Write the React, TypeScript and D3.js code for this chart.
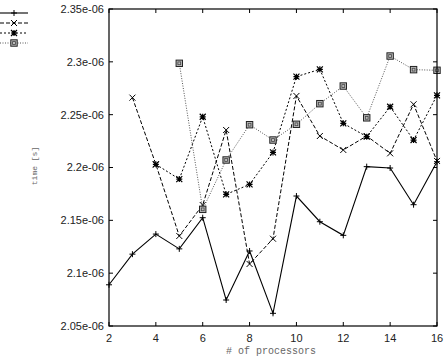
import React from "react";
import * as d3 from "d3";

const series1X = [2, 3, 4, 5, 6, 7, 8, 9, 10, 11, 12, 13, 14, 15, 16];
const series1 = [2.089, 2.118, 2.137, 2.123, 2.1525, 2.0746, 2.121, 2.062, 2.173, 2.1487, 2.1358, 2.2008, 2.1995, 2.1648, 2.2055];
const series2X = [3, 4, 5, 6, 7, 8, 9, 10, 11, 12, 13, 14, 15, 16];
const series2 = [2.2661, 2.203, 2.1352, 2.1645, 2.2355, 2.1087, 2.1326, 2.2677, 2.2298, 2.2166, 2.2298, 2.2134, 2.2598, 2.2062];
const series3X = [4, 5, 6, 7, 8, 9, 10, 11, 12, 13, 14, 15, 16];
const series3 = [2.203, 2.189, 2.248, 2.1746, 2.184, 2.2143, 2.286, 2.2929, 2.2418, 2.2292, 2.2575, 2.226, 2.2683];
const series4X = [5, 6, 7, 8, 9, 10, 11, 12, 13, 14, 15, 16];
const series4 = [2.2986, 2.1604, 2.2071, 2.2405, 2.226, 2.2409, 2.2604, 2.2771, 2.247, 2.3055, 2.2926, 2.292];
const xTicks = [2, 4, 6, 8, 10, 12, 14, 16];
const yTicks = [2.05, 2.1, 2.15, 2.2, 2.25, 2.3, 2.35];
const yTickLabels = ["2.05e-06", "2.1e-06", "2.15e-06", "2.2e-06", "2.25e-06", "2.3e-06", "2.35e-06"];

const L = 109, R = 437, T = 9, B = 326;

type Kind = "plus" | "cross" | "star" | "square";

function Marker({ x, y, kind, color }: { x: number; y: number; kind: Kind; color: string }) {
  const s = 3;
  if (kind === "plus")
    return <path d={`M${x - s},${y}H${x + s}M${x},${y - s}V${y + s}`} stroke={color} strokeWidth={1} />;
  if (kind === "cross")
    return <path d={`M${x - s},${y - s}L${x + s},${y + s}M${x - s},${y + s}L${x + s},${y - s}`} stroke={color} strokeWidth={1} />;
  if (kind === "star")
    return (
      <path
        d={`M${x - s},${y}H${x + s}M${x},${y - s}V${y + s}M${x - s},${y - s}L${x + s},${y + s}M${x - s},${y + s}L${x + s},${y - s}`}
        stroke={color}
        strokeWidth={1.2}
      />
    );
  return (
    <g>
      <rect x={x - 3.2} y={y - 3.2} width={6.4} height={6.4} fill="#bbb" stroke="#222" strokeWidth={1} />
      <rect x={x - 1.4} y={y - 1.4} width={2.8} height={2.8} fill="none" stroke="#444" strokeWidth={0.8} />
    </g>
  );
}

export default function App() {
  const x = d3.scaleLinear().domain([2, 16]).range([L, R]);
  const y = d3.scaleLinear().domain([2.05, 2.35]).range([B, T]);
  const line = d3
    .line<[number, number]>()
    .x((d) => x(d[0]))
    .y((d) => y(d[1]));

  const defs = [
    { xv: series1X, yv: series1, dash: "", color: "#000", width: 1.1, kind: "plus" as Kind },
    { xv: series2X, yv: series2, dash: "4,2", color: "#000", width: 1, kind: "cross" as Kind },
    { xv: series3X, yv: series3, dash: "2,2", color: "#000", width: 1, kind: "star" as Kind },
    { xv: series4X, yv: series4, dash: "1,1.5", color: "#555", width: 1, kind: "square" as Kind },
  ];

  const tickFont = { fontFamily: "Liberation Sans, Arial, sans-serif", fontSize: 11 };

  return (
    <svg width={446} height={360} style={{ position: "absolute", left: 0, top: 0, background: "#fff" }}>
      {defs.map((s, i) => {
        const ly = 13 + i * 10;
        return (
          <g key={"lg" + i}>
            <line x1={0} x2={28} y1={ly} y2={ly} stroke={s.color} strokeWidth={s.width} strokeDasharray={s.dash || undefined} />
            <Marker x={14} y={ly} kind={s.kind} color={s.color} />
          </g>
        );
      })}

      {yTicks.map((t, i) => (
        <g key={"yt" + i}>
          <line x1={L} x2={L + 4} y1={y(t)} y2={y(t)} stroke="#000" />
          <line x1={R} x2={R - 4} y1={y(t)} y2={y(t)} stroke="#000" />
          <text x={L - 5} y={y(t)} dy="0.35em" textAnchor="end" style={tickFont} fill="#222">
            {yTickLabels[i]}
          </text>
        </g>
      ))}
      {xTicks.map((t, i) => (
        <g key={"xt" + i}>
          <line x1={x(t)} x2={x(t)} y1={B} y2={B - 4} stroke="#000" />
          <line x1={x(t)} x2={x(t)} y1={T} y2={T + 4} stroke="#000" />
          <text x={x(t)} y={B + 16} textAnchor="middle" style={tickFont} fill="#222">
            {t}
          </text>
        </g>
      ))}

      {defs.map((s, i) => {
        const pts: [number, number][] = s.xv.map((xv, j) => [xv, s.yv[j]]);
        return (
          <g key={"s" + i}>
            <path d={line(pts) || ""} fill="none" stroke={s.color} strokeWidth={s.width} strokeDasharray={s.dash || undefined} />
            {pts.map((p, j) => (
              <Marker key={j} x={x(p[0])} y={y(p[1])} kind={s.kind} color={s.color} />
            ))}
          </g>
        );
      })}

      <rect x={L} y={T} width={R - L} height={B - T} fill="none" stroke="#000" strokeWidth={1.2} />

      <text
        x={271}
        y={354}
        textAnchor="middle"
        style={{ fontFamily: "Liberation Mono, monospace", fontSize: 10 }}
        fill="#666"
      >
        # of processors
      </text>
      <text
        transform="translate(37,166) rotate(-90)"
        textAnchor="middle"
        style={{ fontFamily: "Liberation Mono, monospace", fontSize: 8 }}
        fill="#666"
      >
        time [s]
      </text>
    </svg>
  );
}
